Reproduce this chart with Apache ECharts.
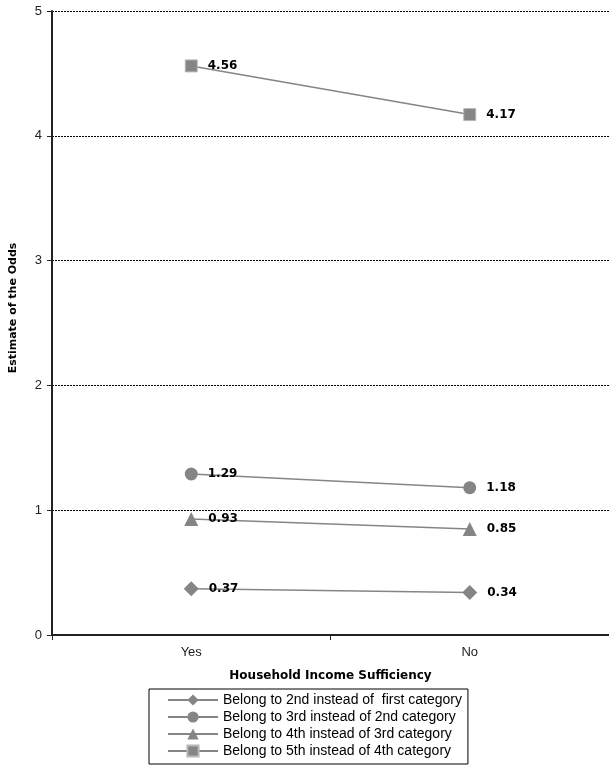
<!DOCTYPE html>
<html><head><meta charset="utf-8">
<script src="https://cdn.jsdelivr.net/npm/echarts@6/dist/echarts.min.js"></script>
<style>html,body{margin:0;padding:0;background:#fff}#c{width:609px;height:766px}</style>
</head><body><div id="c"></div>
<script>
const categories = ['Yes', 'No'];
const yTicks = [0, 1, 2, 3, 4, 5];
const seriesNames = [
  'Belong to 2nd instead of  first category',
  'Belong to 3rd instead of 2nd category',
  'Belong to 4th instead of 3rd category',
  'Belong to 5th instead of 4th category'
];
const s2vs1 = [0.37, 0.34];
const s3vs2 = [1.29, 1.18];
const s4vs3 = [0.93, 0.85];
const s5vs4 = [4.56, 4.17];
const seriesValues = [s2vs1, s3vs2, s4vs3, s5vs4];
const symbols = ['diamond', 'circle', 'triangle', 'rect'];
const symbolSizes = [15, 13, 14, 12];

const chart = echarts.init(document.getElementById('c'));
chart.setOption({
  animation: false,
  textStyle: { fontFamily: 'Liberation Sans, Arial, sans-serif' },
  grid: { left: 51, right: -1, top: 11, bottom: 131 },
  xAxis: {
    type: 'category',
    data: categories,
    boundaryGap: true,
    name: 'Household Income Sufficiency',
    nameLocation: 'middle',
    nameGap: 35,
    nameTextStyle: { fontWeight: 'bold', fontSize: 12, color: '#000', fontFamily: 'DejaVu Sans' },
    axisLine: { lineStyle: { color: '#222', width: 2 } },
    axisTick: { show: true, length: 5, lineStyle: { color: '#222' } },
    axisLabel: { fontSize: 13, color: '#222', margin: 11 }
  },
  yAxis: {
    type: 'value',
    min: yTicks[0], max: yTicks[yTicks.length - 1], interval: 1,
    name: 'Estimate of the Odds',
    nameLocation: 'middle',
    nameGap: 33,
    nameTextStyle: { fontWeight: 'bold', fontSize: 11, color: '#000', fontFamily: 'DejaVu Sans', padding: [0, 0, 0, 30] },
    axisLine: { show: true, lineStyle: { color: '#222', width: 2 } },
    axisTick: { show: true, length: 5, lineStyle: { color: '#222' } },
    axisLabel: { fontSize: 13, color: '#222', margin: 10 },
    splitLine: { lineStyle: { color: '#000', width: 1, type: [2, 1] } }
  },
  legend: {
    orient: 'vertical',
    left: 149, top: 689,
    data: seriesNames,
    backgroundColor: '#fff',
    borderColor: '#000', borderWidth: 1,
    padding: [4, 6, 6, 18],
    itemWidth: 50, itemHeight: 14, itemGap: 3,
    textStyle: { fontSize: 14, color: '#000' }
  },
  series: seriesNames.map((n, i) => ({
    name: n,
    type: 'line',
    data: seriesValues[i],
    symbol: symbols[i],
    symbolSize: symbolSizes[i],
    lineStyle: { color: '#858585', width: 1.5 },
    itemStyle: i === 3
      ? { color: '#858585', borderColor: '#b8b8b8', borderWidth: 1 }
      : { color: '#858585' },
    label: {
      show: true,
      position: 'right',
      distance: 10,
      fontWeight: 'bold',
      fontSize: 12,
      color: '#000',
      fontFamily: 'DejaVu Sans',
      formatter: p => p.value.toFixed(2)
    },
    z: 3
  }))
});
</script></body></html>
